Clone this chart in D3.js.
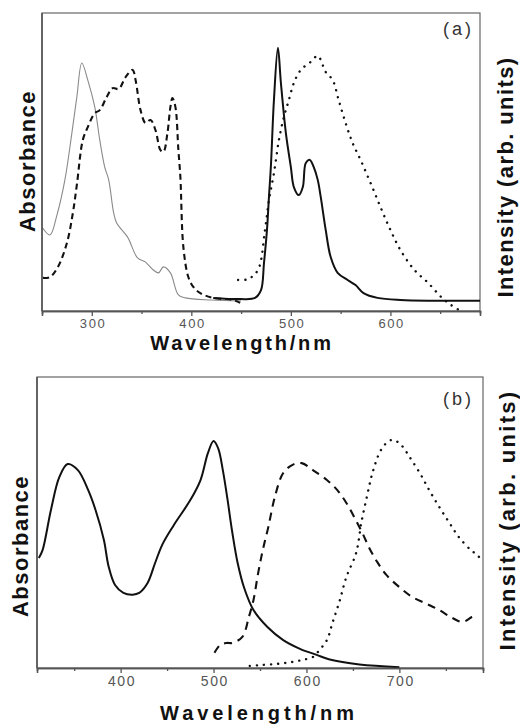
<!DOCTYPE html>
<html>
<head>
<meta charset="utf-8">
<script src="https://cdn.jsdelivr.net/npm/d3@7"></script>
<style>
  html, body { margin: 0; padding: 0; background: #fff; }
  svg { display: block; }
  text { font-family: Arial, "Liberation Sans", sans-serif; }
</style>
</head>
<body>
<svg id="chart"></svg>
<script>
// ── Panel (a) data: [wavelength nm, relative intensity] ──
const aAbsThin = [
    [250, 0.282], [258, 0.255], [265, 0.322], [273, 0.44], [280, 0.597], [285, 0.718],
    [290, 0.832], [296, 0.775], [303, 0.685], [308, 0.574], [313, 0.483], [317, 0.44],
    [322, 0.329], [325, 0.295], [336, 0.248], [346, 0.178], [354, 0.164], [361, 0.14],
    [367, 0.128], [372, 0.148], [379, 0.128], [387, 0.054], [394, 0.044], [420, 0.037],
    [450, 0.034]
];
const aAbsDash = [
    [251, 0.111], [258, 0.114], [266, 0.148], [275, 0.228], [281, 0.329], [285, 0.423],
    [291, 0.574], [296, 0.617], [303, 0.664], [308, 0.674], [315, 0.718], [321, 0.748],
    [327, 0.745], [334, 0.785], [341, 0.809], [344, 0.775], [349, 0.674], [354, 0.631],
    [359, 0.641], [364, 0.607], [369, 0.540], [372, 0.534], [376, 0.597], [379, 0.685],
    [381, 0.715], [384, 0.685], [387, 0.540], [389, 0.450], [392, 0.215], [397, 0.114],
    [402, 0.081], [409, 0.060], [422, 0.044], [442, 0.037], [449, 0.027]
];
const aEmSolid = [
    [422, 0.044], [449, 0.040], [464, 0.044], [470, 0.070], [473, 0.161], [476, 0.272],
    [478, 0.383], [480, 0.49], [483, 0.708], [487, 0.883], [490, 0.765], [495, 0.597],
    [500, 0.483], [503, 0.416], [508, 0.389], [512, 0.416], [515, 0.497], [519, 0.507],
    [523, 0.483], [527, 0.440], [530, 0.383], [535, 0.272], [540, 0.181], [547, 0.128],
    [557, 0.104], [565, 0.087], [573, 0.060], [587, 0.044], [610, 0.037], [690, 0.034]
];
const aEmDot = [
    [447, 0.104], [457, 0.107], [467, 0.138], [474, 0.272], [478, 0.372], [483, 0.463],
    [488, 0.574], [493, 0.651], [498, 0.708], [503, 0.765], [510, 0.809], [520, 0.836],
    [527, 0.856], [535, 0.802], [542, 0.775], [548, 0.708], [555, 0.631], [562, 0.564],
    [570, 0.507], [580, 0.430], [590, 0.349], [600, 0.272], [610, 0.205], [624, 0.138],
    [638, 0.094], [651, 0.047], [661, 0.020], [669, 0.003]
];

// ── Panel (b) data ──
const bAbsSolid = [
    [312, 0.378], [316, 0.405], [325, 0.543], [334, 0.656], [343, 0.701], [354, 0.680],
    [365, 0.612], [373, 0.543], [382, 0.440], [387, 0.35], [394, 0.285], [403, 0.258],
    [413, 0.252], [420, 0.258], [429, 0.292], [437, 0.36], [445, 0.425], [457, 0.490],
    [475, 0.577], [486, 0.646], [494, 0.739], [500, 0.780], [505, 0.755], [510, 0.68],
    [515, 0.58], [520, 0.47], [526, 0.36], [533, 0.275], [543, 0.199], [558, 0.141],
    [575, 0.096], [593, 0.066], [611, 0.045], [625, 0.029], [657, 0.012], [700, 0.003]
];
const bEmDash = [
    [501, 0.052], [507, 0.079], [514, 0.086], [520, 0.086], [531, 0.107], [538, 0.175],
    [543, 0.234], [548, 0.326], [553, 0.405], [559, 0.485], [566, 0.588], [575, 0.670],
    [585, 0.698], [595, 0.704], [607, 0.680], [622, 0.646], [633, 0.612], [643, 0.567],
    [652, 0.515], [660, 0.465], [668, 0.41], [676, 0.365], [686, 0.32], [700, 0.278],
    [714, 0.244], [729, 0.221], [743, 0.199], [757, 0.172], [768, 0.158], [778, 0.175],
    [784, 0.182]
];
const bEmDot = [
    [539, 0.007], [550, 0.010], [568, 0.014], [585, 0.021], [596, 0.028], [607, 0.038],
    [614, 0.062], [622, 0.096], [628, 0.155], [636, 0.234], [643, 0.313], [652, 0.381],
    [655, 0.416], [659, 0.498], [665, 0.588], [671, 0.670], [679, 0.742], [686, 0.773],
    [693, 0.784], [702, 0.766], [711, 0.725], [722, 0.670], [732, 0.612], [743, 0.553],
    [754, 0.498], [764, 0.450], [777, 0.405], [784, 0.388], [788, 0.371]
];

const aMajorTicks = [300, 400, 500, 600];
const aMinorTicks = [350, 450, 550, 650];
const bMajorTicks = [400, 500, 600, 700];
const bMinorTicks = [350, 450, 550, 650, 750];

const W = 520, H = 725;
const svg = d3.select('#chart').attr('width', W).attr('height', H);

const STYLES = {
    thin:   { stroke: '#8a8a8a', width: 1.1, dash: null, cap: 'butt' },
    solid:  { stroke: '#111',    width: 2,   dash: null, cap: 'butt' },
    dashA:  { stroke: '#111',    width: 2.1, dash: '6,4', cap: 'butt' },
    dashB:  { stroke: '#111',    width: 2.1, dash: '8,6', cap: 'butt' },
    dot:    { stroke: '#111',    width: 2.4, dash: '0.1,7', cap: 'round' }
};

function drawPanel(cfg) {
    const x = d3.scaleLinear().domain(cfg.xDomain).range([cfg.left, cfg.right]);
    const y = d3.scaleLinear().domain([0, 1]).range([cfg.bottom, cfg.top]);
    const g = svg.append('g');

    // frame
    g.append('rect')
        .attr('x', cfg.left).attr('y', cfg.top)
        .attr('width', cfg.right - cfg.left).attr('height', cfg.bottom - cfg.top)
        .attr('fill', 'none').attr('stroke', '#666').attr('stroke-width', 1.2);

    const line = d3.line()
        .x(d => x(d[0]))
        .y(d => y(d[1]))
        .curve(d3.curveCatmullRom.alpha(0.5));

    cfg.series.forEach(s => {
        const st = STYLES[s.style];
        g.append('path')
            .datum(s.data)
            .attr('d', line)
            .attr('fill', 'none')
            .attr('stroke', st.stroke)
            .attr('stroke-width', st.width)
            .attr('stroke-dasharray', st.dash)
            .attr('stroke-linecap', st.cap)
            .attr('stroke-linejoin', 'round');
    });

    // bottom axis: majors with labels, minors without
    const major = g.append('g')
        .attr('transform', `translate(0,${cfg.bottom})`)
        .call(d3.axisBottom(x).tickValues(cfg.major).tickSize(5).tickPadding(3).tickFormat(d3.format('d')));
    const minor = g.append('g')
        .attr('transform', `translate(0,${cfg.bottom})`)
        .call(d3.axisBottom(x).tickValues(cfg.minor).tickSize(3).tickFormat(''));
    [major, minor].forEach(ax => {
        ax.select('.domain').attr('stroke', '#555').attr('stroke-width', 1.6);
        ax.selectAll('.tick line').attr('stroke', '#555').attr('stroke-width', 1.3);
    });
    major.selectAll('.tick text')
        .attr('fill', '#555')
        .attr('font-size', cfg.tickFont)
        .attr('dx', '0.06em')
        .style('letter-spacing', '1.6px')
        .style('font-family', 'Arial, "Liberation Sans", sans-serif');

    // left axis line (darker)
    g.append('line')
        .attr('x1', cfg.left).attr('x2', cfg.left)
        .attr('y1', cfg.top).attr('y2', cfg.bottom)
        .attr('stroke', '#555').attr('stroke-width', 1.6);

    // axis titles
    g.append('text')
        .attr('x', cfg.xTitleX).attr('y', cfg.xTitleY)
        .attr('text-anchor', 'middle')
        .attr('font-size', 20).attr('font-weight', 'bold')
        .style('letter-spacing', cfg.xTitleSpacing)
        .attr('fill', '#111')
        .text('Wavelength/nm');

    g.append('text')
        .attr('transform', `translate(${cfg.absX},${cfg.absY}) rotate(-90)`)
        .attr('text-anchor', 'middle')
        .attr('font-size', 22).attr('font-weight', 'bold')
        .style('letter-spacing', '1.5px')
        .attr('fill', '#111')
        .text('Absorbance');

    g.append('text')
        .attr('transform', `translate(${cfg.intX},${cfg.intY}) rotate(-90)`)
        .attr('text-anchor', 'middle')
        .attr('font-size', 22).attr('font-weight', 'bold')
        .style('letter-spacing', cfg.intSpacing)
        .attr('fill', '#111')
        .text('Intensity (arb. units)');

    g.append('text')
        .attr('x', cfg.tagX).attr('y', cfg.tagY)
        .attr('text-anchor', 'end')
        .attr('font-size', 18)
        .style('letter-spacing', '3px')
        .attr('fill', '#333')
        .text(cfg.tag);
}

drawPanel({
    xDomain: [250, 690], left: 42, right: 480, top: 13, bottom: 311,
    major: aMajorTicks, minor: aMinorTicks, tickFont: 13,
    series: [
        { data: aAbsThin, style: 'thin' },
        { data: aAbsDash, style: 'dashA' },
        { data: aEmSolid, style: 'solid' },
        { data: aEmDot,   style: 'dot' }
    ],
    xTitleX: 242, xTitleY: 350, xTitleSpacing: '2.8px',
    absX: 35, absY: 161,
    intX: 513, intY: 177, intSpacing: '1.4px',
    tag: '(a)', tagX: 474, tagY: 35
});

drawPanel({
    xDomain: [310, 790], left: 37, right: 483, top: 377, bottom: 668,
    major: bMajorTicks, minor: bMinorTicks, tickFont: 14,
    series: [
        { data: bAbsSolid, style: 'solid' },
        { data: bEmDash,   style: 'dashB' },
        { data: bEmDot,    style: 'dot' }
    ],
    xTitleX: 259, xTitleY: 720, xTitleSpacing: '3.9px',
    absX: 28, absY: 546,
    intX: 515, intY: 520, intSpacing: '2.3px',
    tag: '(b)', tagX: 474, tagY: 405
});
</script>
</body>
</html>
